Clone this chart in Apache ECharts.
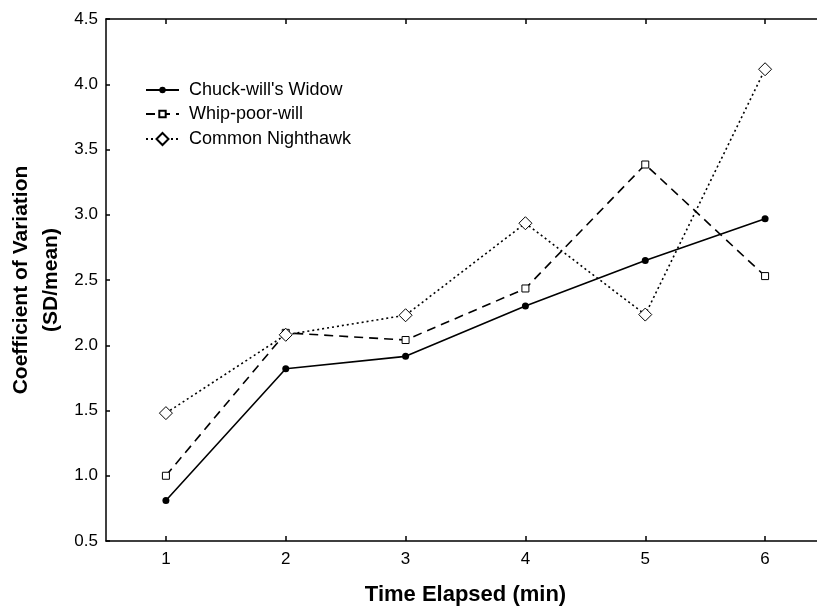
<!DOCTYPE html>
<html>
<head>
<meta charset="utf-8">
<script src="https://cdn.jsdelivr.net/npm/echarts@6/dist/echarts.min.js"></script>
<style>
html,body{margin:0;padding:0;background:#fff;}
#chart{width:817px;height:610px;}
</style>
</head>
<body>
<div id="chart"></div>
<script>
const categories = ['1', '2', '3', '4', '5', '6'];
const chuckWillsWidow = [0.81, 1.82, 1.915, 2.30, 2.65, 2.97];
const whipPoorWill = [1.00, 2.095, 2.04, 2.435, 3.385, 2.53];
const commonNighthawk = [1.48, 2.08, 2.23, 2.935, 2.235, 4.115];
const seriesNames = ["Chuck-will's Widow", 'Whip-poor-will', 'Common Nighthawk'];

const FONT = 'Liberation Sans, Arial, sans-serif';
const chart = echarts.init(document.getElementById('chart'), null, {renderer: 'canvas'});

function legendFor(name, top, itemHeight) {
  return {
    orient: 'vertical',
    left: 140,
    top: top,
    itemWidth: 33,
    itemHeight: itemHeight,
    data: [name],
    selectedMode: false,
    textStyle: {fontFamily: FONT, fontSize: 18, color: '#000', padding: [0, 0, 0, 5]}
  };
}

chart.setOption({
  backgroundColor: '#fff',
  animation: false,
  textStyle: {fontFamily: FONT, color: '#000'},
  grid: {left: 106, top: 19, right: -8, bottom: 69, containLabel: false, outerBoundsMode: 'none'},
  legend: [
    legendFor(seriesNames[0], 76, 8),
    legendFor(seriesNames[1], 100, 8),
    legendFor(seriesNames[2], 125, 15)
  ],
  xAxis: [{
    type: 'category',
    data: categories,
    boundaryGap: true,
    position: 'bottom',
    name: 'Time Elapsed (min)',
    nameLocation: 'middle',
    nameGap: 43,
    nameTextStyle: {fontFamily: FONT, fontSize: 22, fontWeight: 'bold', color: '#000'},
    axisLine: {show: true, lineStyle: {color: '#000', width: 1.5}},
    axisTick: {show: true, inside: true, length: 5, alignWithLabel: true, lineStyle: {color: '#000', width: 1.5}},
    axisLabel: {fontFamily: FONT, fontSize: 17, color: '#000', margin: 10},
    splitLine: {show: false}
  }, {
    type: 'category',
    data: categories,
    boundaryGap: true,
    position: 'top',
    axisLine: {show: true, lineStyle: {color: '#000', width: 1.5}},
    axisTick: {show: true, inside: true, length: 5, alignWithLabel: true, lineStyle: {color: '#000', width: 1.5}},
    axisLabel: {show: false},
    splitLine: {show: false}
  }],
  yAxis: {
    type: 'value',
    min: 0.5,
    max: 4.5,
    interval: 0.5,
    name: 'Coefficient of Variation\n(SD/mean)',
    nameLocation: 'middle',
    nameRotate: 90,
    nameGap: 40,
    nameMoveOverlap: false,
    nameTextStyle: {fontFamily: FONT, fontSize: 21, fontWeight: 'bold', color: '#000', lineHeight: 30, align: 'center'},
    axisLine: {show: true, lineStyle: {color: '#000', width: 1.5}},
    axisTick: {show: true, inside: true, length: 4, lineStyle: {color: '#000', width: 1.5}},
    axisLabel: {fontFamily: FONT, fontSize: 17, color: '#000', margin: 8, formatter: v => v.toFixed(1)},
    splitLine: {show: false}
  },
  series: [{
    name: seriesNames[0],
    type: 'line',
    data: chuckWillsWidow,
    symbol: 'circle',
    symbolSize: 7,
    showAllSymbol: true,
    lineStyle: {color: '#000', width: 1.6, type: 'solid'},
    itemStyle: {color: '#000', borderColor: '#000', borderWidth: 0},
    z: 3
  }, {
    name: seriesNames[1],
    type: 'line',
    data: whipPoorWill,
    symbol: 'rect',
    symbolSize: 7,
    showAllSymbol: true,
    lineStyle: {color: '#000', width: 1.6, type: [9, 6]},
    itemStyle: {color: '#fff', borderColor: '#000', borderWidth: 1},
    z: 4
  }, {
    name: seriesNames[2],
    type: 'line',
    data: commonNighthawk,
    symbol: 'diamond',
    symbolSize: 13,
    showAllSymbol: true,
    lineStyle: {color: '#000', width: 1.6, type: [2, 3]},
    itemStyle: {color: '#fff', borderColor: '#000', borderWidth: 1},
    z: 5
  }]
});
</script>
</body>
</html>
